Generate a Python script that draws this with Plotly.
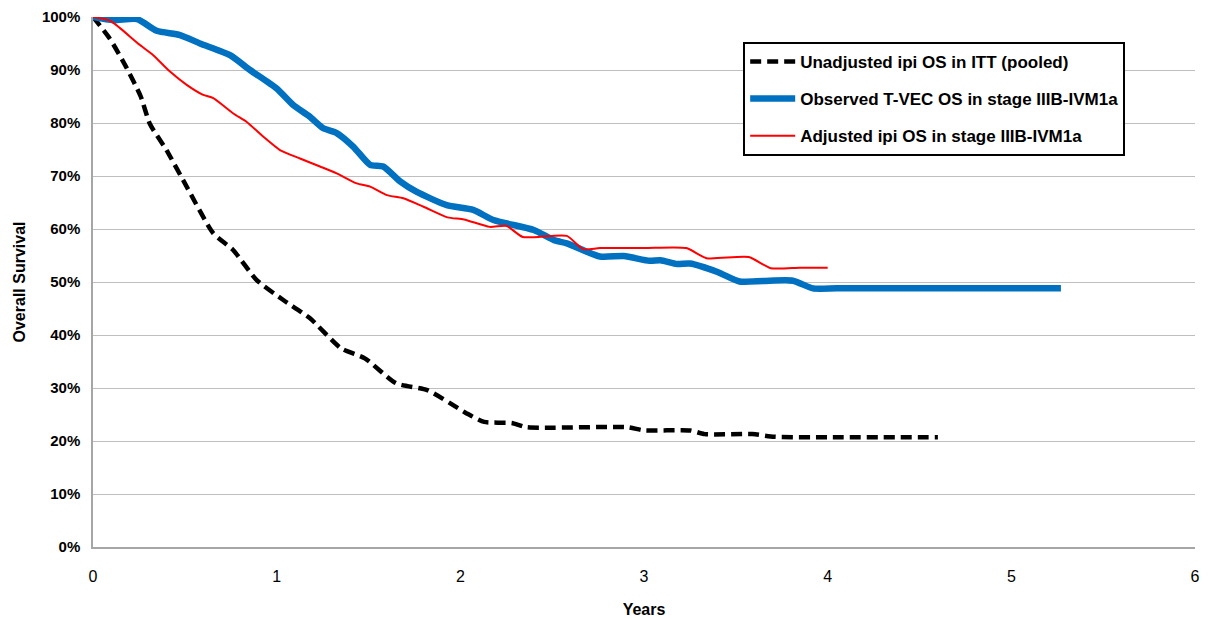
import plotly.graph_objects as go

# ---- data (years, overall survival %) ----
ipi_itt_years = [0, 0.09, 0.18, 0.26, 0.31, 0.40, 0.51, 0.655, 0.764, 0.89, 1.036, 1.18, 1.35, 1.48,
                 1.65, 1.82, 2.03, 2.13, 2.28, 2.36, 2.91, 3.0, 3.25, 3.33, 3.59, 3.71, 4.0, 4.6]
ipi_itt_os = [100, 96, 90.6, 85, 79.8, 74.9, 68, 59.2, 56, 50.4, 46.6, 43.2, 37.5, 35.6,
              30.9, 29.6, 25.3, 23.6, 23.4, 22.6, 22.6, 22.0, 22.0, 21.3, 21.3, 20.8, 20.7, 20.7]

tvec_years = [0, 0.11, 0.24, 0.347, 0.474, 0.583, 0.746, 0.855, 1.0, 1.09, 1.18, 1.254, 1.327, 1.418,
              1.509, 1.58, 1.672, 1.763, 1.926, 2.07, 2.18, 2.40, 2.51, 2.58, 2.76, 2.89, 3.03, 3.09,
              3.18, 3.25, 3.40, 3.52, 3.65, 3.81, 3.92, 4.05, 4.6, 5.27]
tvec_os = [100, 99.4, 99.6, 97.4, 96.6, 95.0, 92.8, 90.0, 86.5, 83.4, 81.2, 79.0, 78.1, 75.5,
           72.1, 71.8, 69.0, 67.0, 64.5, 63.6, 61.7, 59.8, 57.9, 57.3, 54.8, 54.9, 54.0, 54.1,
           53.4, 53.5, 51.9, 50.1, 50.2, 50.25, 48.8, 48.8, 48.8, 48.8]

adj_years = [0, 0.093, 0.147, 0.256, 0.328, 0.419, 0.51, 0.60, 0.655, 0.764, 0.837, 0.928, 1.018,
             1.127, 1.236, 1.327, 1.436, 1.509, 1.6, 1.69, 1.80, 1.93, 2.02, 2.16, 2.25, 2.34, 2.49,
             2.58, 2.67, 2.76, 3.0, 3.23, 3.34, 3.57, 3.69, 3.85, 4.0]
adj_os = [100, 99.3, 97.9, 94.7, 92.8, 89.7, 87.2, 85.3, 84.7, 81.8, 80.2, 77.4, 74.9,
          73.3, 71.8, 70.5, 68.6, 68.0, 66.4, 65.8, 64.2, 62.2, 61.8, 60.4, 60.6, 58.5, 58.7,
          58.7, 56.2, 56.4, 56.4, 56.4, 54.5, 54.7, 52.6, 52.7, 52.7]

series_names = ["Unadjusted ipi OS in ITT (pooled)",
                "Observed T-VEC OS in stage IIIB-IVM1a",
                "Adjusted ipi OS in stage IIIB-IVM1a"]

x_ticks = [0, 1, 2, 3, 4, 5, 6]
y_ticks = [0, 10, 20, 30, 40, 50, 60, 70, 80, 90, 100]

FONT = "Liberation Sans"

fig = go.Figure()
fig.add_trace(go.Scatter(x=ipi_itt_years, y=ipi_itt_os, mode="lines", name=series_names[0],
                         legendgroup="a",
                         line=dict(color="black", width=4.5, dash="11px,6px", shape="spline", smoothing=0.6)))
fig.add_trace(go.Scatter(x=tvec_years, y=tvec_os, mode="lines", name=series_names[1],
                         legendgroup="b",
                         line=dict(color="#0070C0", width=6.5, shape="spline", smoothing=0.6)))
fig.add_trace(go.Scatter(x=adj_years, y=adj_os, mode="lines", name=series_names[2],
                         legendgroup="c",
                         line=dict(color="#FF0000", width=2, shape="spline", smoothing=0.6)))

# page body has an 8px margin; figure sized/margined to place plot area like reference
fig.update_layout(
    width=1200, height=611,
    margin=dict(l=85, r=13, t=9, b=72),
    paper_bgcolor="white", plot_bgcolor="white",
    font=dict(family=FONT, color="black"),
    showlegend=True,
    legend=dict(x=0.59, y=0.953, xanchor="left", yanchor="top",
                bordercolor="black", borderwidth=2, bgcolor="white",
                font=dict(family=FONT, size=17, color="black", weight="bold"),
                tracegroupgap=12, traceorder="grouped", itemwidth=45),
    xaxis=dict(range=[0, 6], tickvals=x_ticks, ticktext=[str(v) for v in x_ticks],
               showgrid=False, zeroline=False, showline=True, linecolor="#a6a6a6", linewidth=1.5,
               ticks="", tickfont=dict(size=16, family=FONT), ticklabelstandoff=14,
               automargin=False,
               title=dict(text="<b>Years</b>", font=dict(size=16, family=FONT), standoff=20)),
    yaxis=dict(range=[0, 100], tickvals=y_ticks, ticktext=[f"<b>{v}%</b>" for v in y_ticks],
               showgrid=True, gridcolor="#bfbfbf", gridwidth=1.3, zeroline=False,
               showline=True, linecolor="#a6a6a6", linewidth=1.5, ticks="",
               tickfont=dict(size=15, family=FONT), ticklabelstandoff=8,
               automargin=False,
               title=dict(text="<b>Overall Survival</b>", font=dict(size=16, family=FONT), standoff=12)),
)

fig.write_html("out.html")
